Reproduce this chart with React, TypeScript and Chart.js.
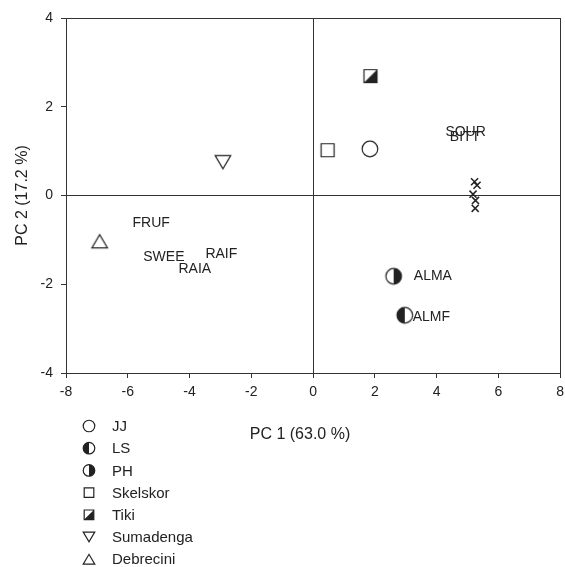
import React, { useEffect, useRef } from 'react';
import { Chart, registerables } from 'chart.js';

Chart.register(...registerables);

// ---- data ----
const SERIES_NAMES = ['JJ', 'LS', 'PH', 'Skelskor', 'Tiki', 'Sumadenga', 'Debrecini'];
const SERIES_MARKERS = ['circle', 'halfLeft', 'halfRight', 'square', 'halfSquare', 'triDown', 'triUp'];
const SERIES_X = [1.84, 2.97, 2.61, 0.47, 1.86, -2.92, -6.91];
const SERIES_Y = [1.05, -2.70, -1.82, 1.02, 2.69, 0.75, -1.03];

const ATTR_LABELS = ['FRUF', 'SWEE', 'RAIF', 'RAIA', 'ALMA', 'ALMF', 'SOUR', 'BITT'];
const ATTR_X = [-5.24, -4.83, -2.97, -3.83, 3.88, 3.83, 4.94, 4.92];
const ATTR_Y = [-0.63, -1.40, -1.32, -1.66, -1.82, -2.75, 1.42, 1.31];

const CROSS_X = [5.23, 5.31, 5.18, 5.26, 5.25];
const CROSS_Y = [0.31, 0.23, 0.03, -0.11, -0.29];

const X_MIN = -8;
const X_MAX = 8;
const Y_MIN = -4;
const Y_MAX = 4;
const TICK_STEP = 2;

const X_TITLE = 'PC 1 (63.0 %)';
const Y_TITLE = 'PC 2 (17.2 %)';

const INK = '#222222';
const AXIS = '#333333';
const FONT = '"Liberation Sans", Arial, Helvetica, sans-serif';

function drawMarker(ctx: CanvasRenderingContext2D, kind: string, cx: number, cy: number, s: number) {
  ctx.save();
  ctx.lineWidth = 1.2;
  ctx.strokeStyle = INK;
  ctx.fillStyle = '#ffffff';
  const r = 7.8 * s;
  const h = 6.5 * s;
  const tw = 7.8 * s;
  const th = 6.6 * s;
  ctx.beginPath();
  switch (kind) {
    case 'circle':
    case 'halfLeft':
    case 'halfRight':
      ctx.arc(cx, cy, r, 0, Math.PI * 2);
      ctx.fill();
      if (kind !== 'circle') {
        ctx.beginPath();
        if (kind === 'halfLeft') ctx.arc(cx, cy, r, Math.PI / 2, (3 * Math.PI) / 2);
        else ctx.arc(cx, cy, r, -Math.PI / 2, Math.PI / 2);
        ctx.closePath();
        ctx.fillStyle = INK;
        ctx.fill();
      }
      ctx.beginPath();
      ctx.arc(cx, cy, r, 0, Math.PI * 2);
      ctx.stroke();
      break;
    case 'square':
    case 'halfSquare':
      ctx.rect(cx - h, cy - h, 2 * h, 2 * h);
      ctx.fill();
      if (kind === 'halfSquare') {
        ctx.beginPath();
        ctx.moveTo(cx + h, cy - h);
        ctx.lineTo(cx + h, cy + h);
        ctx.lineTo(cx - h, cy + h);
        ctx.closePath();
        ctx.fillStyle = INK;
        ctx.fill();
      }
      ctx.beginPath();
      ctx.rect(cx - h, cy - h, 2 * h, 2 * h);
      ctx.stroke();
      break;
    case 'triDown':
      ctx.moveTo(cx - tw, cy - th);
      ctx.lineTo(cx + tw, cy - th);
      ctx.lineTo(cx, cy + th);
      ctx.closePath();
      ctx.fill();
      ctx.stroke();
      break;
    case 'triUp':
      ctx.moveTo(cx - tw, cy + th);
      ctx.lineTo(cx + tw, cy + th);
      ctx.lineTo(cx, cy - th);
      ctx.closePath();
      ctx.fill();
      ctx.stroke();
      break;
  }
  ctx.restore();
}

function makeMarker(kind: string): HTMLCanvasElement {
  const c = document.createElement('canvas');
  c.width = 22;
  c.height = 22;
  const ctx = c.getContext('2d');
  if (ctx) drawMarker(ctx, kind, 11, 11, 1);
  return c;
}

const overlayPlugin = {
  id: 'overlay',
  afterDatasetsDraw(chart: any) {
    const { ctx, scales } = chart;
    const xs = scales.x;
    const ys = scales.y;
    ctx.save();
    ctx.fillStyle = INK;
    ctx.font = `14px ${FONT}`;
    ctx.textAlign = 'center';
    ctx.textBaseline = 'middle';
    ATTR_LABELS.forEach((t, i) => {
      ctx.fillText(t, xs.getPixelForValue(ATTR_X[i]), ys.getPixelForValue(ATTR_Y[i]));
    });
    ctx.restore();
  },
  afterDraw(chart: any) {
    const { ctx } = chart;
    ctx.save();
    ctx.fillStyle = INK;
    ctx.textBaseline = 'middle';
    // x-axis title
    ctx.font = `16px ${FONT}`;
    ctx.textAlign = 'center';
    ctx.fillText(X_TITLE, 300, 435);
    // legend
    ctx.font = `15px ${FONT}`;
    ctx.textAlign = 'left';
    SERIES_NAMES.forEach((name, i) => {
      const y = 426 + i * 22.2;
      drawMarker(ctx, SERIES_MARKERS[i], 89, y, 0.74);
      ctx.fillStyle = INK;
      ctx.fillText(name, 112, y + 1);
    });
    ctx.restore();
  },
};

export default function App() {
  const ref = useRef<HTMLCanvasElement | null>(null);

  useEffect(() => {
    if (!ref.current) return;
    const datasets: any[] = SERIES_NAMES.map((name, i) => ({
      label: name,
      data: [{ x: SERIES_X[i], y: SERIES_Y[i] }],
      pointStyle: makeMarker(SERIES_MARKERS[i]),
      pointRadius: 8,
    }));
    datasets.push({
      label: 'attributes',
      data: CROSS_X.map((x, i) => ({ x, y: CROSS_Y[i] })),
      pointStyle: 'crossRot',
      pointRadius: 5,
      borderColor: INK,
      borderWidth: 1.5,
    });

    const edgeColor = (min: number, max: number) => (c: any) => {
      const v = c.tick ? c.tick.value : null;
      return v === 0 || v === min || v === max ? AXIS : 'rgba(0,0,0,0)';
    };

    const chart = new Chart(ref.current, {
      type: 'scatter',
      data: { datasets },
      options: {
        animation: false,
        responsive: false,
        maintainAspectRatio: false,
        layout: { padding: { top: 18, right: 0, left: 0, bottom: 0 } },
        plugins: { legend: { display: false }, tooltip: { enabled: false } },
        scales: {
          x: {
            type: 'linear',
            min: X_MIN,
            max: X_MAX,
            ticks: { stepSize: TICK_STEP, color: INK, font: { size: 14, family: FONT }, padding: 6 },
            grid: { color: edgeColor(X_MIN, X_MAX), tickColor: AXIS, tickLength: 5, lineWidth: 1 },
            border: { display: true, color: AXIS, width: 1 },
            afterFit: (s: any) => {
              s.height = 194;
            },
          },
          y: {
            type: 'linear',
            min: Y_MIN,
            max: Y_MAX,
            ticks: { stepSize: TICK_STEP, color: INK, font: { size: 14, family: FONT }, padding: 8 },
            grid: { color: edgeColor(Y_MIN, Y_MAX), tickColor: AXIS, tickLength: 5, lineWidth: 1 },
            border: { display: true, color: AXIS, width: 1 },
            title: { display: true, text: Y_TITLE, color: INK, font: { size: 16, family: FONT }, padding: { top: 13, bottom: 0 } },
            afterFit: (s: any) => {
              s.width = 66;
            },
          },
        },
      },
      plugins: [overlayPlugin],
    });
    return () => chart.destroy();
  }, []);

  return (
    <div style={{ position: 'fixed', left: 0, top: 0, width: 565, height: 567, overflow: 'hidden', background: '#fff' }}>
      <canvas ref={ref} width={570} height={567} style={{ width: 570, height: 567, display: 'block' }} />
    </div>
  );
}
